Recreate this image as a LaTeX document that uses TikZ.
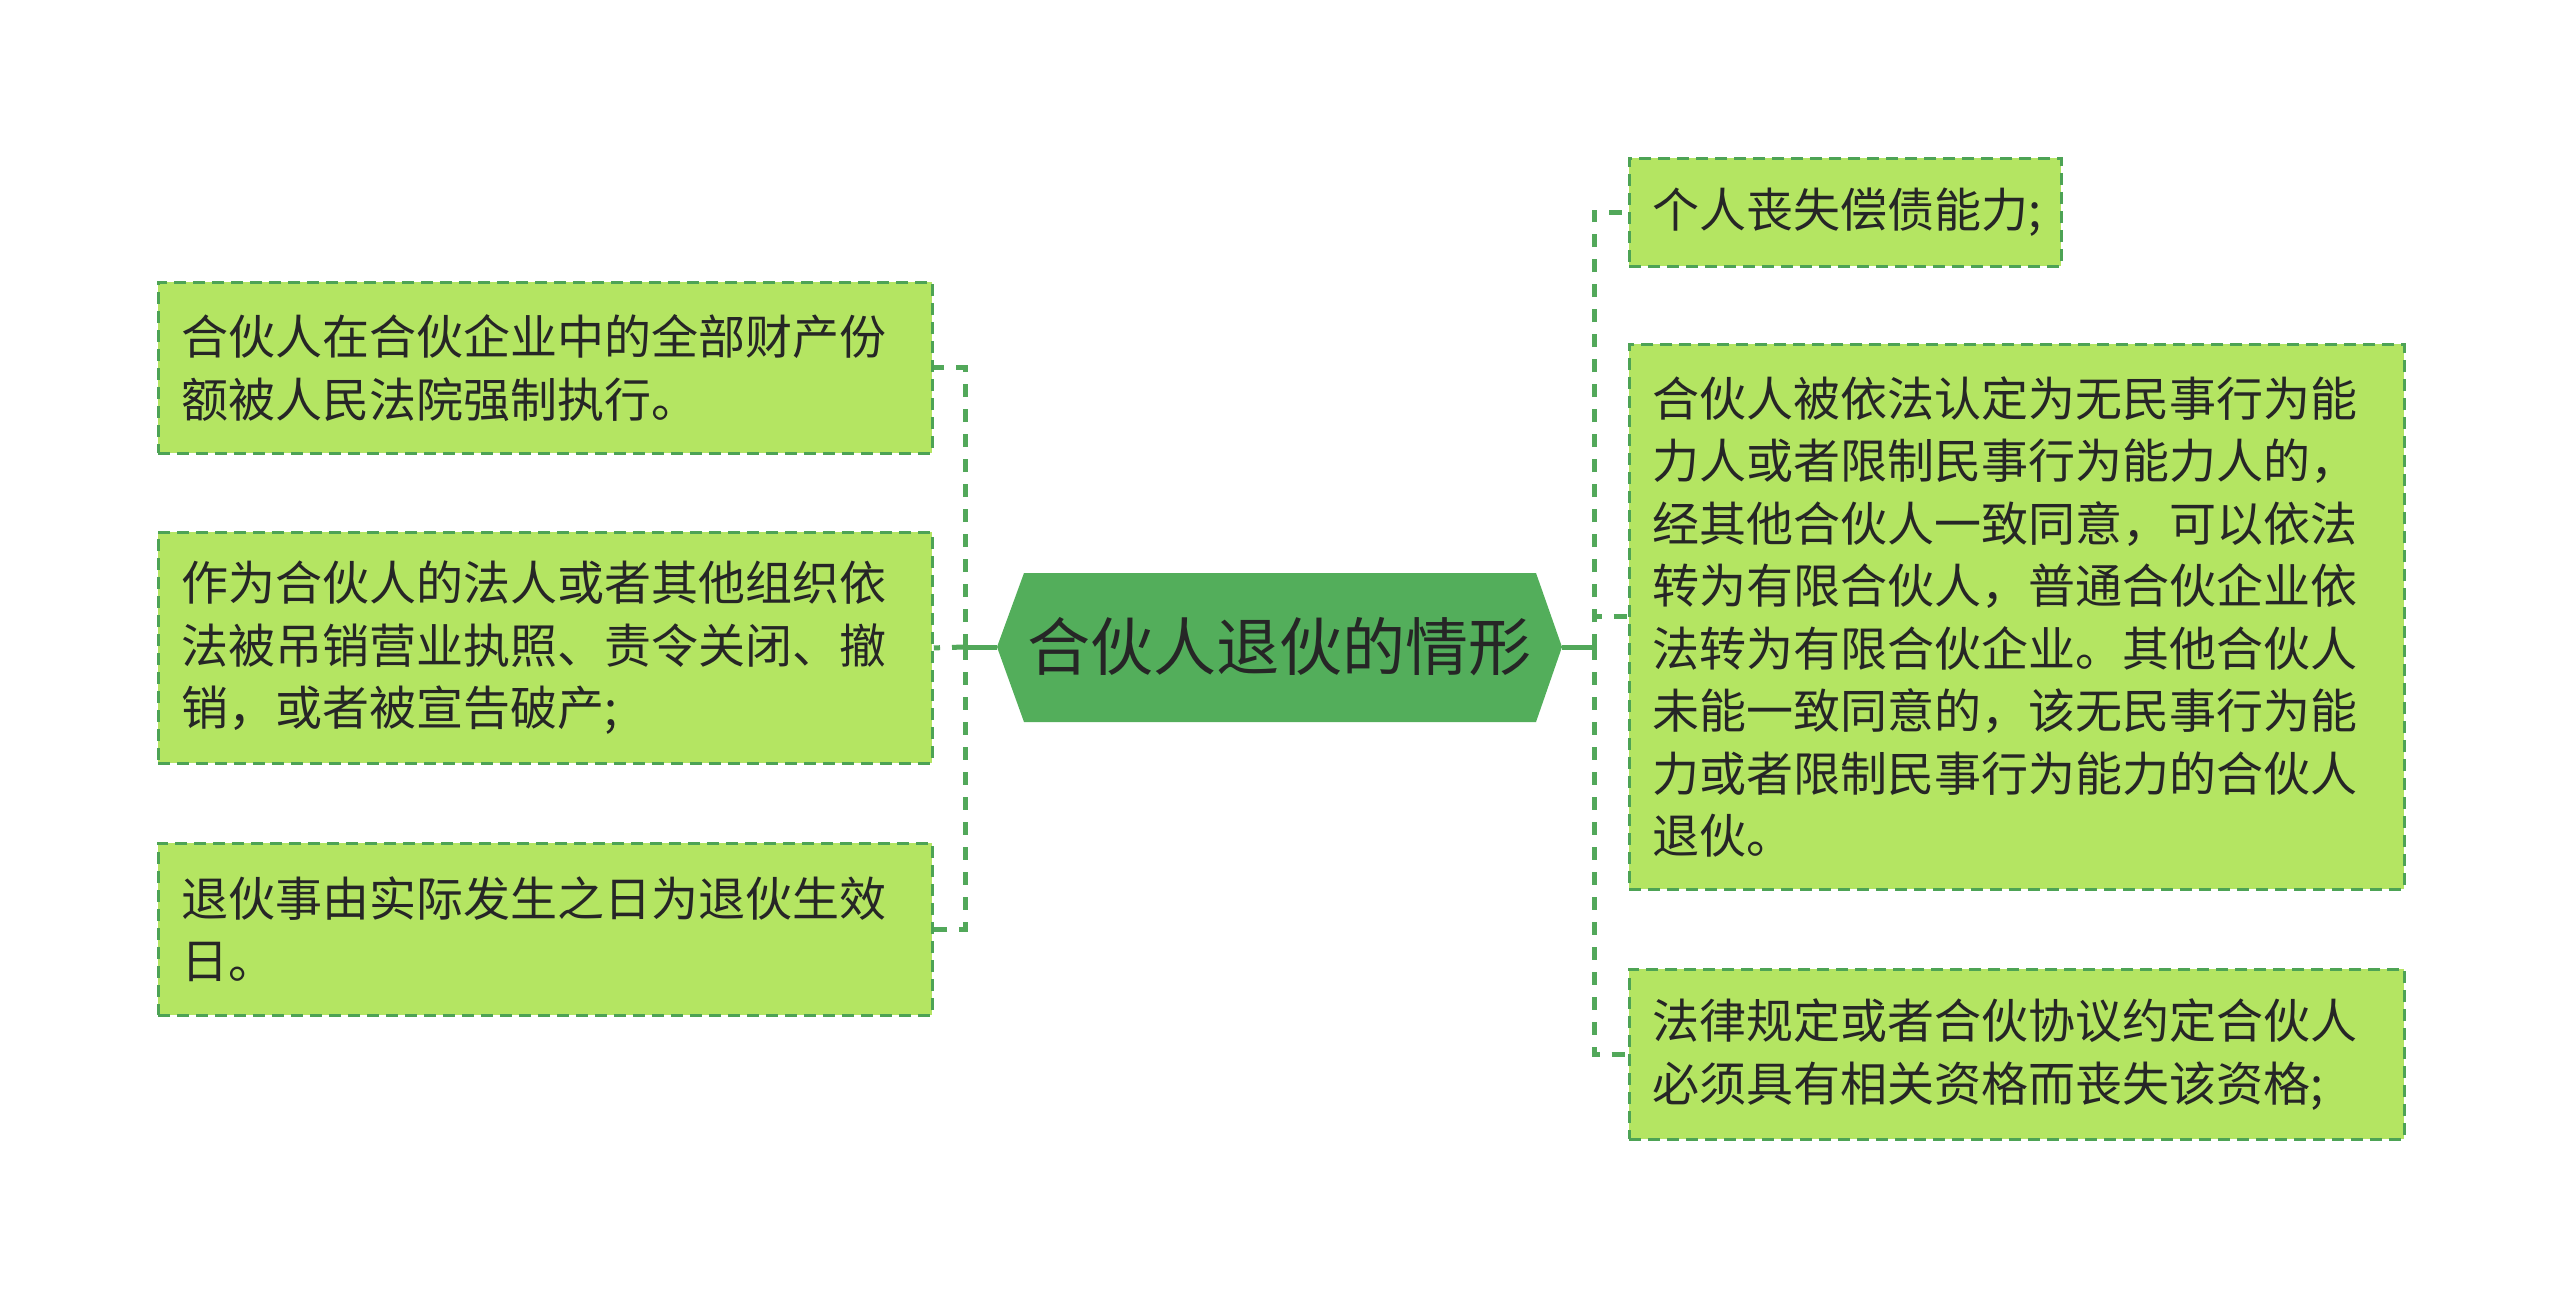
\documentclass[tikz,border=0pt]{standalone}
\usepackage{fontspec}
\setmainfont{Noto Sans CJK SC}
\definecolor{hexfill}{HTML}{53AE5B}
\definecolor{boxfill}{HTML}{B4E562}
\definecolor{boxline}{HTML}{4DA355}
\definecolor{linkc}{HTML}{52A85A}
\definecolor{txt}{HTML}{262626}
\begin{document}
\begin{tikzpicture}[x=1pt,y=-1pt,
  box/.style={draw=boxline, fill=boxfill, line width=2.8pt,
    dash pattern=on 12pt off 7pt, rectangle, anchor=north west,
    inner xsep=23pt, inner ysep=0pt, align=left, text=txt,
    font=\fontsize{47}{62.5}\selectfont},
  link/.style={draw=linkc, line width=5pt},
  linkd/.style={link, dash pattern=on 13pt off 12pt}]
\useasboundingbox (0,0) rectangle (2560,1295);
% root hexagon
\coordinate (rootL) at (997,647);
\coordinate (rootR) at (1562,647);
\fill[hexfill] (rootL) -- (1024,573) -- (1536,573) -- (rootR) -- (1536,722) -- (1024,722) -- cycle;
\node[text=txt, font=\fontsize{63}{70}\selectfont] (root) at (1279.5,647) {合伙人退伙的情形};
% left boxes
\node[box, minimum width=774pt, minimum height=171pt, text width=728pt] (lb1) at (157,281)
  {合伙人在合伙企业中的全部财产份\\额被人民法院强制执行。};
\node[box, minimum width=774pt, minimum height=231pt, text width=728pt] (lb2) at (157,531)
  {作为合伙人的法人或者其他组织依\\法被吊销营业执照、责令关闭、撤\\销，或者被宣告破产;};
\node[box, minimum width=774pt, minimum height=172pt, text width=728pt] (lb3) at (157,842)
  {退伙事由实际发生之日为退伙生效\\日。};
% right boxes
\node[box, minimum width=432pt, minimum height=108pt, text width=386pt] (rb1) at (1628,157)
  {个人丧失偿债能力;};
\node[box, minimum width=775pt, minimum height=545pt, text width=729pt] (rb2) at (1628,343)
  {合伙人被依法认定为无民事行为能\\力人或者限制民事行为能力人的，\\经其他合伙人一致同意，可以依法\\转为有限合伙人，普通合伙企业依\\法转为有限合伙企业。其他合伙人\\未能一致同意的，该无民事行为能\\力或者限制民事行为能力的合伙人\\退伙。};
\node[box, minimum width=775pt, minimum height=170pt, text width=729pt] (rb3) at (1628,968)
  {法律规定或者合伙协议约定合伙人\\必须具有相关资格而丧失该资格;};
% connectors
\coordinate (spL) at (965,647);
\coordinate (spR) at (1594,647);
\draw[link] (rootL) -- (spL);
\draw[link] (rootR) -- (spR);
\draw[linkd] (spL) |- (lb1.east);
\draw[linkd] (spL) -- (lb2.east);
\draw[linkd] (spL) |- (lb3.east);
\draw[linkd] (spR) |- (rb1.west);
\draw[linkd] (spR) |- (rb2.west);
\draw[linkd] (spR) |- (rb3.west);
\end{tikzpicture}
\end{document}
